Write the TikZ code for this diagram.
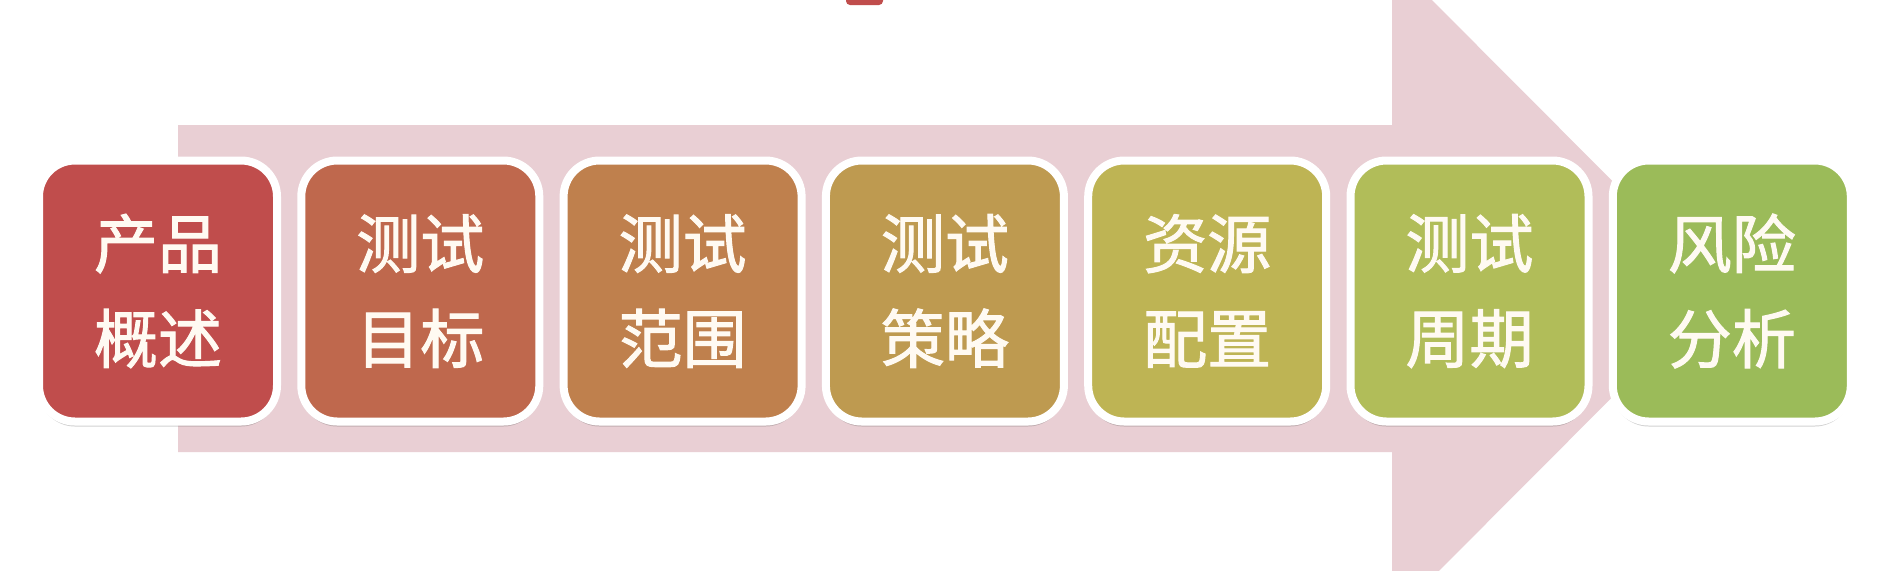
\documentclass[tikz,border=0pt]{standalone}
\usepackage{fontspec}
\newfontfamily\cjk{Noto Sans CJK SC}[FakeBold=1.6]
\usetikzlibrary{shadows}
\definecolor{arrowpink}{HTML}{E9CFD4}
\definecolor{cA}{HTML}{C04D4C}
\definecolor{cB}{HTML}{BF684D}
\definecolor{cC}{HTML}{BF804D}
\definecolor{cD}{HTML}{BE9A50}
\definecolor{cE}{HTML}{BEB454}
\definecolor{cF}{HTML}{B1BD59}
\definecolor{cG}{HTML}{9BBB59}
\definecolor{txt}{HTML}{FFFAF2}
\tikzset{
  stagebox/.style={rectangle, rounded corners=18pt, draw=white, line width=4pt,
    minimum width=119pt, minimum height=130.5pt, inner sep=0pt,
    align=center, text=txt, font=\cjk\fontsize{32}{47.5}\selectfont,
    drop shadow={shadow xshift=0pt, shadow yshift=-2.5pt, opacity=0.25, fill=black!70}}
}
\begin{document}
\begin{tikzpicture}[x=0.5pt,y=-0.5pt]
\useasboundingbox (0,0) rectangle (1884,570);
\clip (0,0) rectangle (1884,570);
\fill[white] (0,0) rectangle (1884,570);
% big arrow
\fill[arrowpink] (178,125) -- (1392,125) -- (1392,-40) -- (1720,289) -- (1392,618) -- (1392,452) -- (178,452) -- cycle;
% small red mark at top edge
\fill[cA, rounded corners=2pt] (846,-4) rectangle (883,5);
% stages
\node[stagebox, fill=cA] (s1) at (158.0,291) {产品\\概述};
\node[stagebox, fill=cB] (s2) at (420.3,291) {测试\\目标};
\node[stagebox, fill=cC] (s3) at (682.6,291) {测试\\范围};
\node[stagebox, fill=cD] (s4) at (944.9,291) {测试\\策略};
\node[stagebox, fill=cE] (s5) at (1207.2,291) {资源\\配置};
\node[stagebox, fill=cF] (s6) at (1469.5,291) {测试\\周期};
\node[stagebox, fill=cG] (s7) at (1731.8,291) {风险\\分析};
\end{tikzpicture}
\end{document}
